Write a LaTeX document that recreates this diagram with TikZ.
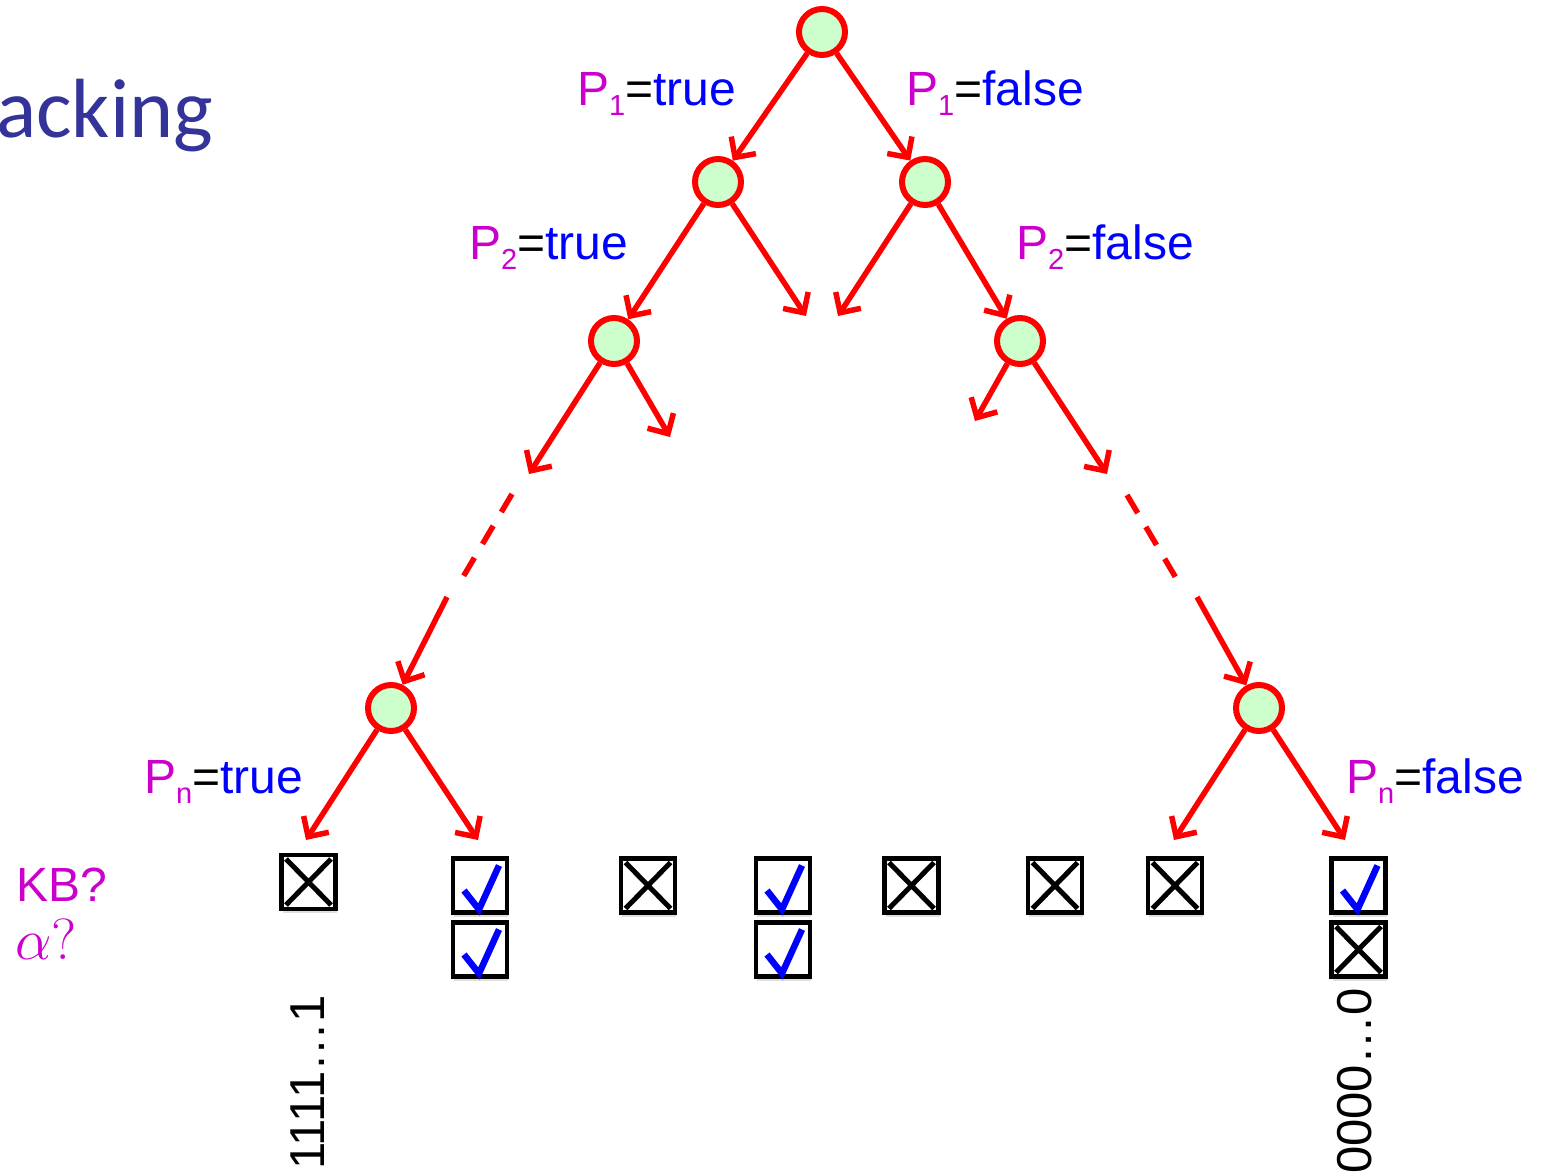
\RequirePackage{fix-cm}
\documentclass[tikz,border=0pt]{standalone}
\usepackage{fontspec}
\setmainfont{Liberation Sans}
\newfontfamily\titlefont{Carlito}
\usetikzlibrary{arrows.meta,shadows}

\definecolor{propmag}{RGB}{204,0,204}
\definecolor{valblue}{RGB}{0,0,255}
\definecolor{titleblue}{RGB}{51,51,153}
\definecolor{nodegreen}{RGB}{204,255,204}
\definecolor{treered}{RGB}{255,0,0}

% subscript index of a proposition symbol
\newcommand\subidx[1]{\raisebox{-10pt}{\fontsize{29}{29}\selectfont #1}}
% P_i = value label
\newcommand\assign[2]{\textcolor{propmag}{P\subidx{#1}}=\textcolor{valblue}{#2}}
% marks drawn inside a box node
\newcommand\crossin[1]{%
  \draw[line width=5pt] ([shift={(-22.5pt,23pt)}]#1.center) -- ([shift={(22.5pt,-23pt)}]#1.center)
                        ([shift={(-22.5pt,-23pt)}]#1.center) -- ([shift={(22.5pt,23pt)}]#1.center);}
\newcommand\tickin[1]{%
  \draw[valblue, line width=6.5pt] ([shift={(-16pt,-5pt)}]#1.center) -- ([shift={(-1pt,-24pt)}]#1.center)
                                   -- ([shift={(19pt,20pt)}]#1.center);}

\begin{document}
\begin{tikzpicture}[x=1pt,y=-1pt,
  state/.style={circle, draw=treered, fill=nodegreen, line width=6pt,
                minimum size=46pt, inner sep=0pt},
  branch/.style={draw=treered, line width=5.5pt,
                 -{Straight Barb[length=15pt,width=30pt]}},
  skipline/.style={draw=treered, line width=5.5pt, dash pattern=on 21pt off 16pt},
  lbl/.style={inner sep=0pt, anchor=base west, font=\fontsize{48}{57}\selectfont},
  tbox/.style={draw=black, fill=white, line width=4.5pt, minimum size=54pt,
               inner sep=0pt, drop shadow={shadow xshift=1pt, shadow yshift=-4pt,
               opacity=0.25}},
  bits/.style={inner sep=0pt, anchor=base west, rotate=90,
               font=\fontsize{49}{58}\selectfont}]

\useasboundingbox (0,0) rectangle (1547,1172);
\clip (0,0) rectangle (1547,1172);

% heading
\node[inner sep=0pt, anchor=base west, text=titleblue,
      font=\titlefont\fontsize{84}{100}\selectfont] (title) at (-4,137) {acking};

% search tree nodes
\node[state] (root) at (822,32) {};
\node[state] (a)  at (718,182) {};
\node[state] (b)  at (925,182) {};
\node[state] (aa) at (614,341) {};
\node[state] (bb) at (1020,341) {};
\node[state] (an) at (391,708) {};
\node[state] (bn) at (1259,708) {};

% loose ends of branches
\coordinate (a-r)  at (806,316);
\coordinate (b-l)  at (838,316);
\coordinate (aa-l) at (529,474);
\coordinate (aa-r) at (670,437);
\coordinate (bb-l) at (975,421);
\coordinate (bb-r) at (1107,474);
\coordinate (ld1) at (512,494);
\coordinate (ld2) at (463,577);
\coordinate (ls)  at (447,597);
\coordinate (rd1) at (1127,495);
\coordinate (rd2) at (1176,578);
\coordinate (rs)  at (1197,597);
\coordinate (an-l) at (306,840);
\coordinate (an-r) at (478,840);
\coordinate (bn-l) at (1174,840);
\coordinate (bn-r) at (1345,840);

% branches
\draw[branch] (root) -- (a);
\draw[branch] (root) -- (b);
\draw[branch] (a) -- (aa);
\draw[branch] (a) -- (a-r);
\draw[branch] (b) -- (b-l);
\draw[branch] (b) -- (bb);
\draw[branch] (aa) -- (aa-l);
\draw[branch] (aa) -- (aa-r);
\draw[branch] (bb) -- (bb-l);
\draw[branch] (bb) -- (bb-r);
\draw[skipline] (ld1) -- (ld2);
\draw[skipline] (rd1) -- (rd2);
\draw[branch] (ls) -- (an);
\draw[branch] (rs) -- (bn);
\draw[branch] (an) -- (an-l);
\draw[branch] (an) -- (an-r);
\draw[branch] (bn) -- (bn-l);
\draw[branch] (bn) -- (bn-r);

% branch labels
\node[lbl] (l1t) at (577,105) {\assign{1}{true}};
\node[lbl] (l1f) at (906,105) {\assign{1}{false}};
\node[lbl] (l2t) at (469,259) {\assign{2}{true}};
\node[lbl] (l2f) at (1016,259) {\assign{2}{false}};
\node[lbl] (lnt) at (144,793) {\assign{n}{true}};
\node[lbl] (lnf) at (1346,793) {\assign{n}{false}};

% row labels
\node[lbl, text=propmag] (kbq) at (16,901) {KB?};
\node[lbl, text=propmag, font=\fontsize{58}{66}\selectfont] (alq) at (15,959) {$\alpha?$};

% model check results
\node[tbox] (b1)  at (308.5,882) {};
\node[tbox] (b2)  at (480,885.5) {};
\node[tbox] (b2s) at (480,949.5) {};
\node[tbox] (b3)  at (648,885.5) {};
\node[tbox] (b4)  at (783,885.5) {};
\node[tbox] (b4s) at (783,949.5) {};
\node[tbox] (b5)  at (911.5,885.5) {};
\node[tbox] (b6)  at (1055,885.5) {};
\node[tbox] (b7)  at (1175,885.5) {};
\node[tbox] (b8)  at (1358.5,885.5) {};
\node[tbox] (b8s) at (1358.5,949.5) {};
\crossin{b1}
\tickin{b2}
\tickin{b2s}
\crossin{b3}
\tickin{b4}
\tickin{b4s}
\crossin{b5}
\crossin{b6}
\crossin{b7}
\tickin{b8}
\crossin{b8s}

% extreme assignments
\node[bits] (ones)  at (324,1170) {1111…1};
\node[bits] (zeros) at (1371,1174) {0000…0};
\end{tikzpicture}
\end{document}
